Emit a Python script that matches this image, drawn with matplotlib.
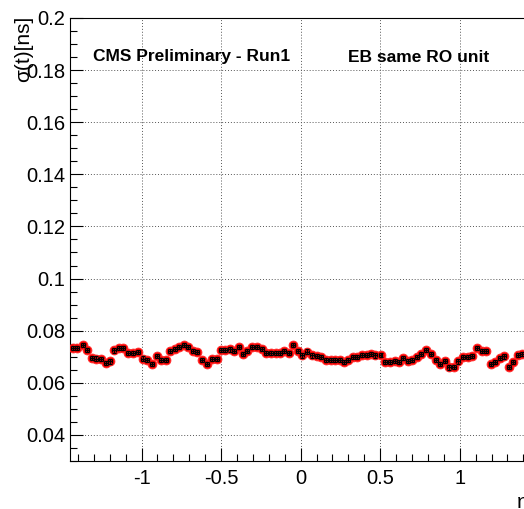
import matplotlib
matplotlib.use("Agg")
import matplotlib.pyplot as plt
from matplotlib.ticker import MultipleLocator, FormatStrFormatter

plt.rcParams["font.family"] = ["Liberation Sans", "DejaVu Sans"]

# eta bin centres and time resolution (ns)
eta = [-1.430, -1.405, -1.371, -1.346, -1.314, -1.287, -1.258, -1.226, -1.199, -1.172,
       -1.141, -1.116, -1.084, -1.053, -1.021, -0.990, -0.965, -0.937, -0.906, -0.879,
       -0.847, -0.822, -0.791, -0.764, -0.734, -0.707, -0.675, -0.650, -0.623, -0.591,
       -0.560, -0.528, -0.501, -0.473, -0.443, -0.416, -0.388, -0.363, -0.335, -0.304,
       -0.275, -0.243, -0.215, -0.186, -0.157, -0.128, -0.102, -0.072, -0.047, -0.018,
       0.011, 0.042, 0.071, 0.101, 0.128, 0.159, 0.189, 0.218, 0.245, 0.272,
       0.299, 0.329, 0.356, 0.387, 0.415, 0.442, 0.470, 0.502, 0.533, 0.562,
       0.591, 0.619, 0.645, 0.672, 0.698, 0.730, 0.758, 0.785, 0.821, 0.849,
       0.876, 0.908, 0.935, 0.966, 0.991, 1.023, 1.050, 1.079, 1.107, 1.138,
       1.165, 1.194, 1.223, 1.252, 1.280, 1.311, 1.338, 1.365, 1.394]
sigma = [0.0732, 0.0732, 0.0745, 0.0727, 0.0694, 0.0693, 0.0691, 0.0675, 0.0682, 0.0724,
         0.0734, 0.0732, 0.0714, 0.0714, 0.0717, 0.0693, 0.0689, 0.0673, 0.0702, 0.0687,
         0.0687, 0.0721, 0.0730, 0.0736, 0.0744, 0.0736, 0.0721, 0.0718, 0.0688, 0.0673,
         0.0691, 0.0691, 0.0727, 0.0727, 0.0728, 0.0723, 0.0737, 0.0709, 0.0722, 0.0737,
         0.0737, 0.0731, 0.0715, 0.0715, 0.0715, 0.0715, 0.0721, 0.0715, 0.0745, 0.0723,
         0.0705, 0.0720, 0.0705, 0.0702, 0.0698, 0.0689, 0.0688, 0.0686, 0.0686, 0.0680,
         0.0688, 0.0698, 0.0699, 0.0707, 0.0708, 0.0712, 0.0705, 0.0708, 0.0681, 0.0681,
         0.0685, 0.0680, 0.0694, 0.0684, 0.0686, 0.0699, 0.0710, 0.0726, 0.0709, 0.0689,
         0.0671, 0.0684, 0.0659, 0.0662, 0.0682, 0.0700, 0.0700, 0.0702, 0.0733, 0.0722,
         0.0721, 0.0671, 0.0681, 0.0696, 0.0701, 0.0661, 0.0680, 0.0706, 0.0709]
sigma_err = [0.0008] * len(sigma)
half_bin  = 0.0125

fig = plt.figure(figsize=(5.24, 5.09), dpi=100)
ax = fig.add_axes([70 / 524, 48 / 509, 461.3 / 524, 443.1 / 509])

# red markers underneath, black error bars drawn on top (ROOT look)
ax.plot(eta, sigma, "o", color="#ff0000", mec="#ff3030", ms=6.4, mew=0.6, zorder=3)
ax.errorbar(eta, sigma, xerr=half_bin, yerr=sigma_err, fmt="none", ecolor="black",
            elinewidth=0.9, capsize=1.5, capthick=0.9, zorder=4)

ax.set_xlim(-1.45, 1.45)
ax.set_ylim(0.03, 0.2)

ax.xaxis.set_major_locator(MultipleLocator(0.5))
ax.xaxis.set_minor_locator(MultipleLocator(0.1))
ax.yaxis.set_major_locator(MultipleLocator(0.02))
ax.yaxis.set_minor_locator(MultipleLocator(0.005))
ax.xaxis.set_major_formatter(FormatStrFormatter("%g"))
ax.yaxis.set_major_formatter(FormatStrFormatter("%g"))

ax.tick_params(which="both", direction="in", top=False, right=False,
               labelsize=14.5, width=0.8)
ax.tick_params(which="major", length=9.5)
ax.tick_params(which="minor", length=5)
ax.tick_params(axis="x", which="major", pad=6)
ax.tick_params(axis="y", which="major", pad=3.5)
for s in ax.spines.values():
    s.set_linewidth(0.8)

ax.grid(True, which="major", linestyle=(0, (1, 2)), color="#555555", linewidth=0.7)
ax.set_axisbelow(True)

fig.text(24 / 524, 1 - 16 / 509, "σ(t)[ns]", rotation=90, ha="center", va="top",
         fontsize=15)
fig.text(516.5 / 524, 1 - 493 / 509, "η", ha="left", va="top", fontsize=15)

fig.text(93 / 524, 1 - 57 / 509, "CMS Preliminary - Run1", fontsize=12.5,
         fontweight="bold", ha="left", va="center")
fig.text(348 / 524, 1 - 57 / 509, "EB same RO unit", fontsize=12.5,
         fontweight="bold", ha="left", va="center")

fig.savefig("out.png", dpi=100)
